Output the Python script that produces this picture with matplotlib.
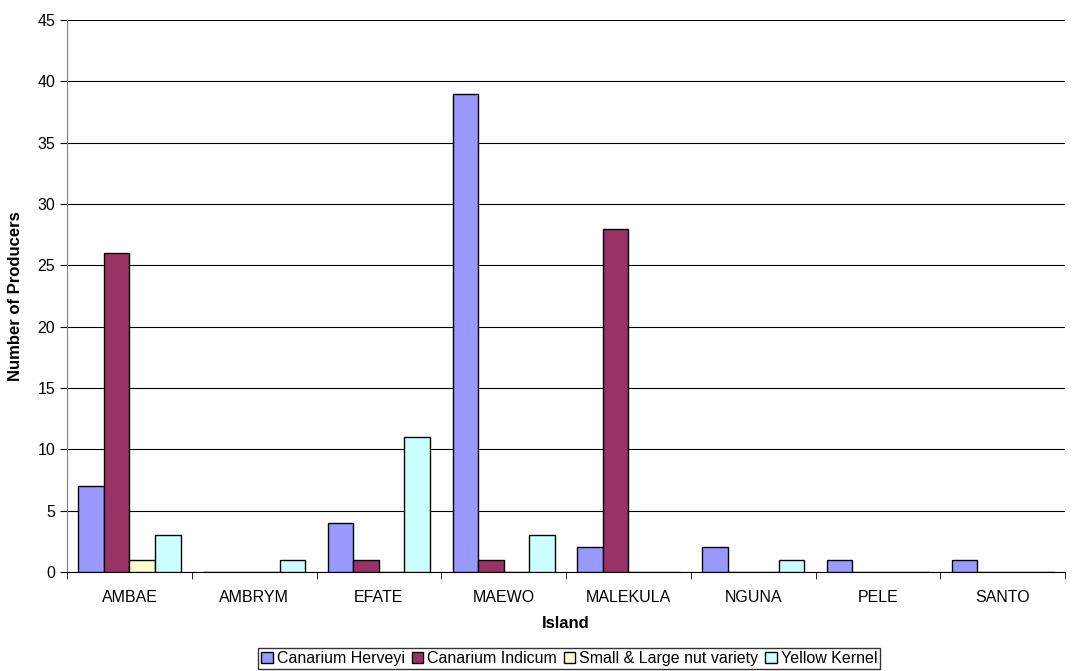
import numpy as np
import matplotlib.pyplot as plt

islands = ['AMBAE', 'AMBRYM', 'EFATE', 'MAEWO', 'MALEKULA', 'NGUNA', 'PELE', 'SANTO']
series_names = ['Canarium Herveyi', 'Canarium Indicum', 'Small & Large nut variety', 'Yellow Kernel']
herveyi = [7, 0, 4, 39, 2, 2, 1, 1]
indicum = [26, 0, 1, 1, 28, 0, 0, 0]
small_large = [1, 0, 0, 0, 0, 0, 0, 0]
yellow = [3, 1, 11, 3, 0, 1, 0, 0]
colors = ['#9999FF', '#993366', '#FFFFCC', '#CCFFFF']

plt.rcParams['font.family'] = ['Liberation Sans', 'DejaVu Sans']

fig = plt.figure(figsize=(10.76, 6.71), dpi=100)
ax = fig.add_axes([0.0623, 0.1475, 0.9275, 0.8227])

x = np.arange(len(islands))
w = 0.205
for i, (vals, name) in enumerate(zip([herveyi, indicum, small_large, yellow], series_names)):
    ax.bar(x + (i - 1.5) * w, vals, width=w, color=colors[i], edgecolor='black',
           linewidth=1, label=name, zorder=3)

ax.set_xlim(-0.5, len(islands) - 0.5)
ax.set_ylim(0, 45)
ax.set_yticks(range(0, 46, 5))
ax.yaxis.grid(True, color='black', linewidth=0.8, zorder=0)
ax.set_axisbelow(True)

ax.set_xticks(x)
ax.set_xticklabels(islands, fontsize=11.5)
ax.tick_params(axis='x', length=0, pad=13)
ax.set_xticks(np.arange(-0.5, len(islands), 1), minor=True)
ax.tick_params(axis='x', which='minor', length=5, direction='out')
ax.tick_params(axis='y', labelsize=11.5, length=5, direction='out')

for s in ['top', 'right']:
    ax.spines[s].set_visible(False)
ax.spines['left'].set_color('#808080')
ax.spines['bottom'].set_color('black')

ax.set_ylabel('Number of Producers', fontsize=12, fontweight='bold', labelpad=10)
ax.set_xlabel('Island', fontsize=12, fontweight='bold', labelpad=8)

leg = fig.legend(loc='lower center', bbox_to_anchor=(0.529, 0.0), ncol=4, fontsize=11.5,
                 frameon=True, fancybox=False, edgecolor='black', handlelength=0.7,
                 handleheight=0.7, handletextpad=0.25, columnspacing=0.45,
                 borderpad=0.2, borderaxespad=0.1)
leg.get_frame().set_linewidth(1)

fig.savefig('out.png', dpi=100)
